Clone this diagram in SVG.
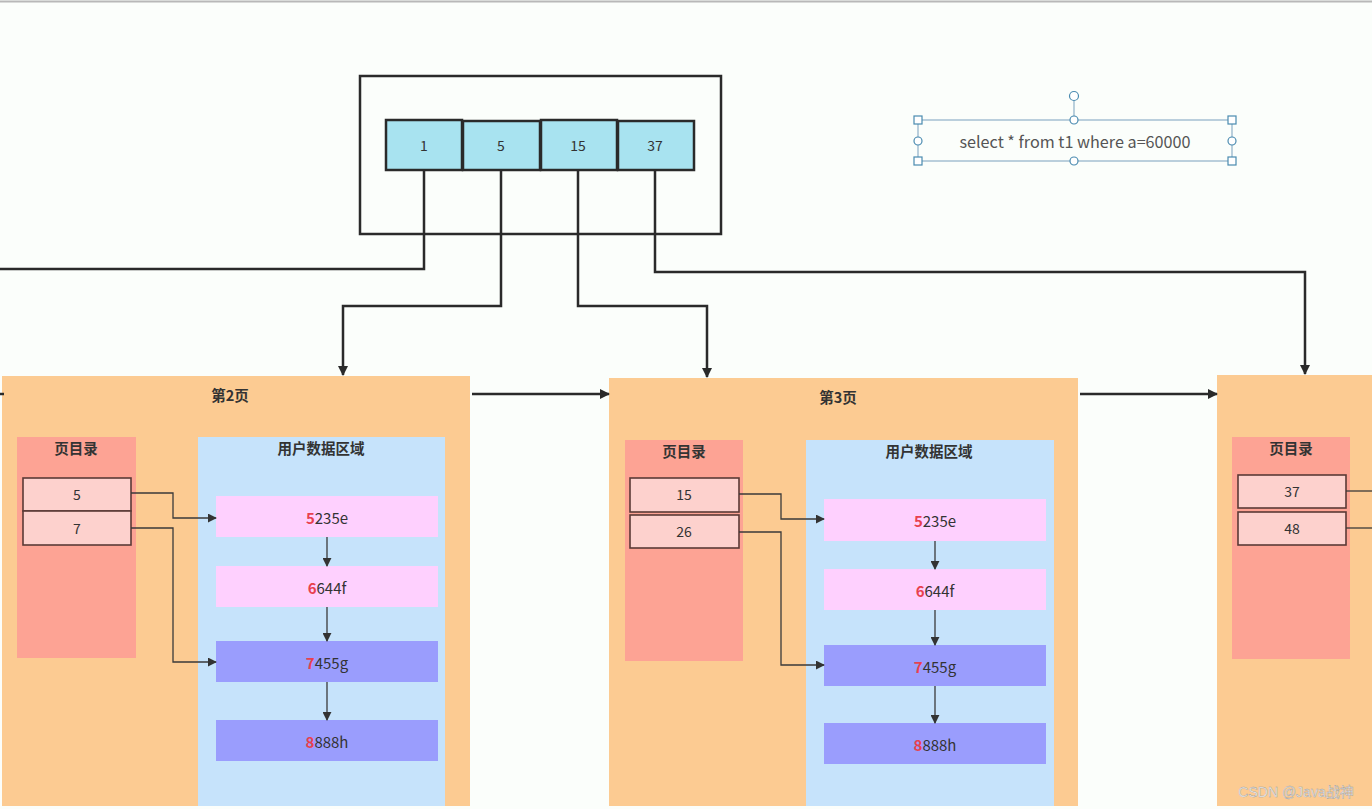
<svg xmlns="http://www.w3.org/2000/svg" width="1372" height="809" viewBox="0 0 1372 809">
<style>
.t{font-family:"Noto Sans CJK SC","Liberation Sans",sans-serif;fill:#333;text-anchor:middle;dominant-baseline:central}
.n{font-size:14px}
.h{font-size:14.5px;font-weight:bold}
.r{font-size:15px}
.q{font-size:16.2px;fill:#555}
.red{fill:#e8404e;font-weight:bold}
.key{fill:#a8e3f0;stroke:#2a2a2a;stroke-width:2.5}
.page{fill:#fccb92}
.dir{fill:#fda394}
.slot{fill:#fdd1cd;stroke:#5a3a36;stroke-width:1.6}
.data{fill:#c6e3fb}
.pink{fill:#fed0fe}
.blue{fill:#9a9dfd}
.ln{fill:none;stroke:#2a2a2a;stroke-width:2.5}
.lt{fill:none;stroke:#3a3a3a;stroke-width:1.3}
.sel{fill:none;stroke:#8fb0c8;stroke-width:1.2}
.hd{fill:#fff;stroke:#4a8bb0;stroke-width:1.2}
</style>
<defs>
<marker id="ah" viewBox="0 0 10 10" refX="9" refY="5" markerWidth="10" markerHeight="10" markerUnits="userSpaceOnUse" orient="auto"><path d="M0,0 L10,5 L0,10 Z" fill="#2a2a2a"/></marker>
<marker id="as" viewBox="0 0 10 10" refX="9" refY="5" markerWidth="9" markerHeight="9" markerUnits="userSpaceOnUse" orient="auto"><path d="M0,0 L10,5 L0,10 Z" fill="#333"/></marker>
</defs>
<rect x="0" y="0" width="1372" height="809" fill="#fbfefb"/>
<line x1="0" y1="1.5" x2="1372" y2="1.5" stroke="#b8b8b8" stroke-width="2"/>

<g id="root">
<rect x="360" y="76" width="361" height="158" fill="none" stroke="#2a2a2a" stroke-width="2.5"/>
<rect class="key" x="386" y="120" width="76" height="50"/>
<rect class="key" x="463" y="121" width="77" height="49"/>
<rect class="key" x="541" y="120" width="76" height="50"/>
<rect class="key" x="618" y="121" width="76" height="49"/>
<text class="t n" x="424" y="145">1</text>
<text class="t n" x="501" y="145">5</text>
<text class="t n" x="578" y="145">15</text>
<text class="t n" x="655" y="145">37</text>
</g>

<g id="sql">
<rect class="sel" x="918" y="120" width="314" height="41"/>
<line class="sel" x1="1074" y1="100" x2="1074" y2="120"/>
<text class="t q" x="1075" y="141">select * from t1 where a=60000</text>
<circle class="hd" cx="1074" cy="96" r="4.5"/>
<circle class="hd" cx="1074" cy="120" r="4"/>
<circle class="hd" cx="1074" cy="161" r="4"/>
<circle class="hd" cx="918" cy="141" r="4"/>
<circle class="hd" cx="1232" cy="141" r="4"/>
<rect class="hd" x="914" y="116" width="8" height="8"/>
<rect class="hd" x="1228" y="116" width="8" height="8"/>
<rect class="hd" x="914" y="157" width="8" height="8"/>
<rect class="hd" x="1228" y="157" width="8" height="8"/>
</g>

<g id="page2">
<rect class="page" x="2" y="376" width="468" height="430"/>
<text class="t h" x="230" y="394">第2页</text>
<rect class="dir" x="17" y="437" width="119" height="221"/>
<text class="t h" x="76" y="447">页目录</text>
<rect class="slot" x="23" y="478" width="108" height="33"/>
<rect class="slot" x="23" y="511" width="108" height="34"/>
<text class="t n" x="77" y="494">5</text>
<text class="t n" x="77" y="528">7</text>
<rect class="data" x="198" y="437" width="247" height="369"/>
<text class="t h" x="321" y="447">用户数据区域</text>
<rect class="pink" x="216" y="496" width="222" height="41"/>
<rect class="pink" x="216" y="566" width="222" height="41"/>
<rect class="blue" x="216" y="641" width="222" height="41"/>
<rect class="blue" x="216" y="720" width="222" height="41"/>
<text class="t r" x="327" y="517"><tspan class="red">5</tspan>235e</text>
<text class="t r" x="327" y="587"><tspan class="red">6</tspan>644f</text>
<text class="t r" x="327" y="662"><tspan class="red">7</tspan>455g</text>
<text class="t r" x="327" y="741"><tspan class="red">8</tspan>888h</text>
</g>

<g id="page3">
<rect class="page" x="609" y="378" width="469" height="428"/>
<text class="t h" x="838" y="396">第3页</text>
<rect class="dir" x="625" y="440" width="118" height="221"/>
<text class="t h" x="684" y="450">页目录</text>
<rect class="slot" x="630" y="478" width="109" height="34"/>
<rect class="slot" x="630" y="515" width="109" height="33"/>
<text class="t n" x="684" y="494">15</text>
<text class="t n" x="684" y="531">26</text>
<rect class="data" x="806" y="440" width="248" height="366"/>
<text class="t h" x="929" y="450">用户数据区域</text>
<rect class="pink" x="824" y="499" width="222" height="42"/>
<rect class="pink" x="824" y="569" width="222" height="41"/>
<rect class="blue" x="824" y="645" width="222" height="41"/>
<rect class="blue" x="824" y="723" width="222" height="41"/>
<text class="t r" x="935" y="520"><tspan class="red">5</tspan>235e</text>
<text class="t r" x="935" y="590"><tspan class="red">6</tspan>644f</text>
<text class="t r" x="935" y="666"><tspan class="red">7</tspan>455g</text>
<text class="t r" x="935" y="744"><tspan class="red">8</tspan>888h</text>
</g>

<g id="page4">
<rect class="page" x="1217" y="375" width="155" height="431"/>
<rect class="dir" x="1232" y="437" width="118" height="222"/>
<text class="t h" x="1291" y="447">页目录</text>
<rect class="slot" x="1238" y="475" width="108" height="33"/>
<rect class="slot" x="1238" y="512" width="108" height="33"/>
<text class="t n" x="1292" y="491">37</text>
<text class="t n" x="1292" y="528">48</text>
</g>

<g id="connectors">
<polyline class="ln" points="424,170 424,269 0,269"/>
<polyline class="ln" points="501,170 501,306 343,306 343,375" marker-end="url(#ah)"/>
<polyline class="ln" points="578,170 578,306 707,306 707,377" marker-end="url(#ah)"/>
<polyline class="ln" points="655,170 655,272 1305,272 1305,374" marker-end="url(#ah)"/>
<line class="ln" x1="472" y1="394" x2="609" y2="394" marker-end="url(#ah)"/>
<line class="ln" x1="1080" y1="394" x2="1217" y2="394" marker-end="url(#ah)"/>
<line class="ln" x1="0" y1="394" x2="4" y2="394"/>
<polyline class="lt" points="131,493 173,493 173,518 216,518" marker-end="url(#as)"/>
<polyline class="lt" points="131,528 173,528 173,662 216,662" marker-end="url(#as)"/>
<line class="lt" x1="327" y1="537" x2="327" y2="566" marker-end="url(#as)"/>
<line class="lt" x1="327" y1="607" x2="327" y2="641" marker-end="url(#as)"/>
<line class="lt" x1="327" y1="682" x2="327" y2="720" marker-end="url(#as)"/>
<polyline class="lt" points="739,494 781,494 781,519 824,519" marker-end="url(#as)"/>
<polyline class="lt" points="739,532 781,532 781,665 824,665" marker-end="url(#as)"/>
<line class="lt" x1="935" y1="541" x2="935" y2="569" marker-end="url(#as)"/>
<line class="lt" x1="935" y1="610" x2="935" y2="645" marker-end="url(#as)"/>
<line class="lt" x1="935" y1="686" x2="935" y2="723" marker-end="url(#as)"/>
<line class="lt" x1="1346" y1="491" x2="1372" y2="491"/>
<line class="lt" x1="1346" y1="528" x2="1372" y2="528"/>
</g>

<text x="1296" y="792" style="font-family:'Liberation Sans','Noto Sans CJK SC',sans-serif;font-size:14px;fill:#f4f4f4;stroke:#9a9a9a;stroke-width:0.4;text-anchor:middle;dominant-baseline:central">CSDN @Java战神</text>
</svg>
